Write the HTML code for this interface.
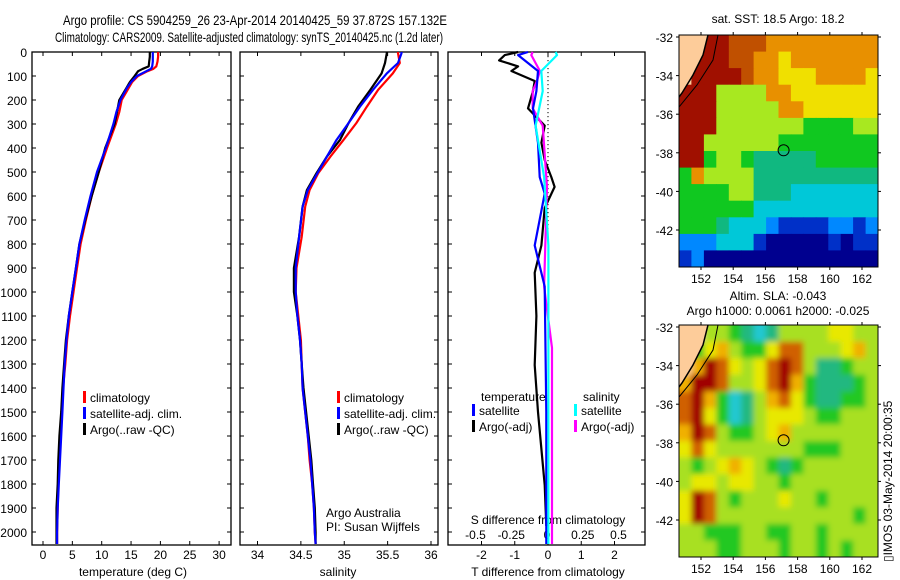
<!DOCTYPE html>
<html><head><meta charset="utf-8"><style>
body{margin:0;background:#fff;width:900px;height:580px;overflow:hidden}
svg{display:block;font-family:"Liberation Sans",sans-serif}
text{fill:#000}
</style></head><body>
<svg id="fig" width="900" height="580" viewBox="0 0 900 580">
<rect width="900" height="580" fill="#fff"/>
<text x="63" y="25" font-size="14" textLength="384" lengthAdjust="spacingAndGlyphs">Argo profile: CS 5904259_26 23-Apr-2014 20140425_59 37.872S 157.132E</text>
<text x="55" y="42" font-size="14" textLength="388" lengthAdjust="spacingAndGlyphs">Climatology: CARS2009. Satellite-adjusted climatology: synTS_20140425.nc (1.2d later)</text>
<g id="p1"></g>
<g id="p2"></g>
<g id="p3"></g>
<g id="m1"></g>
<g id="m2"></g>
<text font-size="12" transform="translate(892,562) rotate(-90)">▯IMOS 03-May-2014 20:00:35</text>
</svg>
<script>
// ---- data ----
const depths = [0,20,40,60,70,80,100,125,150,200,250,300,400,500,600,700,800,900,1000,1100,1200,1300,1400,1500,1600,1700,1800,1900,2000,2050];
const tClim = [19.6,19.6,19.5,19.3,18.8,17.8,16.2,15.2,14.6,13.4,13.0,12.4,10.9,9.5,8.3,7.3,6.4,5.8,5.2,4.6,4.1,3.8,3.4,3.2,3.0,2.8,2.6,2.5,2.4,2.4];
const tSat  = [18.7,18.7,18.7,18.6,18.4,17.6,16.0,15.0,14.3,13.2,12.5,12.0,10.7,9.2,8.1,7.1,6.2,5.6,5.0,4.4,4.0,3.7,3.5,3.3,3.1,2.9,2.7,2.5,2.4,2.4];
const tArgo = [18.2,18.2,18.1,18.0,17.0,16.2,15.6,14.8,14.2,13.0,12.6,12.2,10.6,9.5,8.3,7.2,6.2,5.6,5.0,4.4,3.9,3.6,3.3,3.1,2.8,2.6,2.5,2.3,2.3,2.3];
const sDepths = [0,5,46,89,158,228,296,367,436,505,575,644,770,900,1000,1100,1200,1300,1400,1500,1600,1700,1800,1900,2000,2050];
const sClim = [35.62,35.62,35.64,35.56,35.39,35.26,35.14,34.99,34.84,34.70,34.60,34.55,34.51,34.45,34.44,34.47,34.50,34.51,34.52,34.55,34.58,34.60,34.63,34.65,34.66,34.67];
const sSat  = [35.66,35.66,35.62,35.49,35.33,35.18,35.05,34.91,34.80,34.69,34.58,34.52,34.48,34.44,34.44,34.46,34.49,34.51,34.52,34.55,34.58,34.61,34.63,34.65,34.66,34.67];
const sArgo = [35.49,35.49,35.47,35.43,35.30,35.16,35.05,34.95,34.80,34.68,34.57,34.52,34.48,34.42,34.42,34.46,34.49,34.51,34.53,34.56,34.59,34.62,34.64,34.66,34.67,34.67];
const dBlackD = [0,13,35,60,79,121,163,235,307,378,450,521,562,650,806,920,1100,1304,1500,1804,1975];
const dBlackT = [-0.9,-1.3,-1.47,-0.9,-1.1,-0.4,-0.45,-0.6,-0.1,-0.2,-0.1,0.1,0.2,-0.1,-0.2,-0.4,-0.35,-0.4,-0.3,-0.1,-0.05];
const dBlueD = [0,13,79,163,235,378,521,590,806,977,1500,2050];
const dBlueT = [-0.6,-0.9,-0.3,-0.35,-0.45,-0.3,-0.25,-0.1,-0.4,-0.1,-0.05,-0.05];
const dCyanD = [0,13,79,163,307,521,806,1200,2050];
const dCyanS = [0.06,0.07,-0.04,-0.03,-0.08,-0.02,0.01,0.01,0.01];
const dMagD = [0,13,79,121,163,235,307,562,977,1233,2050];
const dMagS = [-0.1,-0.11,-0.05,-0.07,-0.1,-0.1,-0.03,0.0,-0.02,0.035,0.035];
const tTicks = [0,5,10,15,20,25,30];
const sTicks = ["34","34.5","35","35.5","36"];
const dTicksT = ["-2","-1","0","1","2"];
const dTicksS = ["-0.5","-0.25","0","0.25","0.5"];
const depthTicks = [0,100,200,300,400,500,600,700,800,900,1000,1100,1200,1300,1400,1500,1600,1700,1800,1900,2000];
const lonTicks = [152,154,156,158,160,162];
const latTicks = [-32,-34,-36,-38,-40,-42];
const sstGrid = [
"LLaa999888888888","Laaa998878888888","Laaaa98877788887","aaa6666887777777","aaa6666688777777",
"aaa6666666555566","aa66666655555555","aa56654444455555","5866664444444444","5555664443333333",
"5555553333333333","5554333211112212","2223331000001011","1200000000000000"];
const slaGrid = [
"LL44321244445544","L356433577444564","L687545787422344","6887445786322234","7863124675322334",
"7853124555433444","6874334564444444","5754444444333444","4345654323444444","4554554434444444",
"5874344454434444","5874444444444434","4433344334434444","4443344434434344"];
const sstCol = {"0":"#00008f","1":"#0030c8","2":"#0088ff","3":"#00c8d8","4":"#10b880","5":"#10c820","6":"#a8e820","7":"#f0e000","8":"#e89000","9":"#c05000","a":"#a01000","L":"#fdcc9a"};
const slaCol = {"0":"#0060ff","1":"#20c8d0","2":"#20b880","3":"#20c820","4":"#a8e020","5":"#e8e800","6":"#f0b000","7":"#d06000","8":"#a00000","L":"#fdcc9a"};

const NS="http://www.w3.org/2000/svg";
function mk(parent,tag,attrs,txt){const e=document.createElementNS(NS,tag);for(const k in attrs)e.setAttribute(k,attrs[k]);if(txt!==undefined)e.textContent=txt;parent.appendChild(e);return e;}
const yD = d => 52 + 0.24*d;
const PT=52, PB=545;

function frame(g,x0,x1){
  const r=mk(g,'rect',{x:x0,y:PT,width:x1-x0,height:PB-PT,fill:'none',stroke:'#000','stroke-width':1.3});
  
  
  depthTicks.forEach(d=>{
    mk(g,'line',{x1:x0,x2:x0+4,y1:yD(d),y2:yD(d),stroke:'#000'});
    mk(g,'line',{x1:x1-4,x2:x1,y1:yD(d),y2:yD(d),stroke:'#000'});
  });
}
function line(g,xs,ds,fx,color,name,w){
  const pts=[];
  for(let i=0;i<xs.length;i++){pts.push(fx(xs[i]).toFixed(1)+','+yD(ds[i]).toFixed(1));}
  const p=mk(g,'polyline',{points:pts.join(' '),fill:'none',stroke:color,'stroke-width':w||2.2,'stroke-linejoin':'round'});
  
  
}
function legend(g,x,y,items){
  items.forEach((it,i)=>{
    const r=mk(g,'rect',{x:x,y:y+i*16-11,width:3,height:12,fill:it[0]});
    
    
    const t=mk(g,'text',{x:x+7,y:y+i*16,'font-size':12},it[1]);
    
    
  });
}

// Panel 1 temperature
(function(){
  const g=document.getElementById('p1'), x0=32,x1=231;
  const fx=t=>43+5.87*t;
  frame(g,x0,x1);
  depthTicks.forEach(d=>{const t=mk(g,'text',{x:27,y:yD(d)+5,'font-size':12,'text-anchor':'end'},d);
    });
  tTicks.forEach(v=>{const x=fx(v);mk(g,'line',{x1:x,x2:x,y1:PB,y2:PB-4,stroke:'#000'});mk(g,'line',{x1:x,x2:x,y1:PT,y2:PT+4,stroke:'#000'});
    const t=mk(g,'text',{x:x,y:559,'font-size':12,'text-anchor':'middle'},v);
    });
  const xl=mk(g,'text',{x:133,y:576,'font-size':12,'text-anchor':'middle'},'temperature (deg C)');
  
  line(g,tClim,depths,fx,'#ff0000','temp-climatology-line');
  line(g,tArgo,depths.slice(0,tArgo.length),fx,'#000','temp-argo-line');
  line(g,tSat,depths,fx,'#0000ff','temp-satellite-line');
  legend(g,83,402,[['#f00','climatology'],['#00f','satellite-adj. clim.'],['#000','Argo(..raw -QC)']]);
})();

// Panel 2 salinity
(function(){
  const g=document.getElementById('p2'), x0=240,x1=438;
  const fx=s=>257.5+86.75*(s-34);
  frame(g,x0,x1);
  sTicks.forEach(v=>{const x=fx(+v);mk(g,'line',{x1:x,x2:x,y1:PB,y2:PB-4,stroke:'#000'});mk(g,'line',{x1:x,x2:x,y1:PT,y2:PT+4,stroke:'#000'});
    const t=mk(g,'text',{x:x,y:559,'font-size':12,'text-anchor':'middle'},v);
    });
  const xl=mk(g,'text',{x:338,y:576,'font-size':12,'text-anchor':'middle'},'salinity');
  
  line(g,sClim,sDepths,fx,'#ff0000','sal-climatology-line');
  line(g,sArgo,sDepths,fx,'#000','sal-argo-line');
  line(g,sSat,sDepths,fx,'#0000ff','sal-satellite-line');
  legend(g,337,402,[['#f00','climatology'],['#00f','satellite-adj. clim.'],['#000','Argo(..raw -QC)']]);
  const a=mk(g,'text',{x:326,y:517,'font-size':12},'Argo Australia');
  const b=mk(g,'text',{x:326,y:531,'font-size':12},'PI: Susan Wijffels');
})();

// Panel 3 differences
(function(){
  const g=document.getElementById('p3'), x0=448,x1=645;
  const fxT=t=>548+33.25*t, fxS=s=>547+143*s;
  frame(g,x0,x1);
  for(let y=PT;y<PB;y+=4) mk(g,'rect',{x:547.5,y:y,width:1,height:1.2,fill:'#000'});
  dTicksT.forEach(v=>{const x=fxT(+v);mk(g,'line',{x1:x,x2:x,y1:PB,y2:PB-4,stroke:'#000'});mk(g,'line',{x1:x,x2:x,y1:PT,y2:PT+4,stroke:'#000'});
    const t=mk(g,'text',{x:x,y:559,'font-size':12,'text-anchor':'middle'},v);
    });
  dTicksS.forEach(v=>{const t=mk(g,'text',{x:fxS(+v),y:539,'font-size':12,'text-anchor':'middle'},v);
    });
  const sl=mk(g,'text',{x:548,y:524,'font-size':12,'text-anchor':'middle'},'S difference from climatology');
  
  const xl=mk(g,'text',{x:548,y:576,'font-size':12,'text-anchor':'middle'},'T difference from climatology');
  
  line(g,dBlackT,dBlackD,fxT,'#000','t-diff-argo-line');
  line(g,dMagS,dMagD,fxS,'#ff00ff','s-diff-argo-line');
  line(g,dBlueT,dBlueD,fxT,'#0000ff','t-diff-satellite-line');
  line(g,dCyanS,dCyanD,fxS,'#00ffff','s-diff-satellite-line');
  const h1=mk(g,'text',{x:481,y:401,'font-size':12},'temperature');
  const h2=mk(g,'text',{x:583,y:401,'font-size':12},'salinity');
  legend(g,472,415,[['#00f','satellite'],['#000','Argo(-adj)']]);
  legend(g,574,415,[['#0ff','satellite'],['#f0f','Argo(-adj)']]);
})();

// Maps
function map(gid,top,grid,cols,titles,blur){
  const g=document.getElementById(gid), x0=679,x1=878,bot=top+232;
  const fxL=l=>701+16.1*(l-152), fyL=l=>top+2+19.3*(-32-l);
  const nc=16,nr=grid.length,cw=(x1-x0)/nc,ch=(bot-top)/nr;
  const id='clip'+gid;
  const cp=mk(g,'clipPath',{id:id});mk(cp,'rect',{x:x0,y:top,width:x1-x0,height:bot-top});
  const cg=mk(g,'g',{'clip-path':'url(#'+id+')'});
  if(blur){const f=mk(g,'filter',{id:'bl'+gid,x:'-10%',y:'-10%',width:'120%',height:'120%'});mk(f,'feGaussianBlur',{stdDeviation:3});}
  const hg=mk(cg,'g',blur?{filter:'url(#bl'+gid+')'}:{});
  grid.forEach((row,r)=>{for(let c=0;c<nc;c++){const ch_=row[c]||row[row.length-1];
    const ext=blur?6:0;
    const cell=mk(hg,'rect',{x:(x0+c*cw-(c==0?ext:0)).toFixed(1),y:(top+r*ch-(r==0?ext:0)).toFixed(1),width:(cw+0.6+(c==0||c==nc-1?ext:0)).toFixed(1),height:(ch+0.6+(r==0||r==nr-1?ext:0)).toFixed(1),fill:cols[ch_]});
    
    }});
  mk(cg,'polygon',{points:`${x0},${top} ${x0+29},${top} ${x0+24},${top+20} ${x0+14},${top+40} ${x0+3},${top+58} ${x0},${top+62}`,fill:'#fdcc9a'});
  mk(cg,'polyline',{points:`${x0+29},${top} ${x0+24},${top+20} ${x0+14},${top+40} ${x0+3},${top+58} ${x0},${top+62}`,fill:'none',stroke:'#000','stroke-width':1.5});
  mk(cg,'polyline',{points:`${x0+39},${top} ${x0+34},${top+25} ${x0+18},${top+50} ${x0},${top+72}`,fill:'none',stroke:'#000','stroke-width':1});
  const c=mk(g,'circle',{cx:fxL(157.13),cy:fyL(-37.87),r:5.5,fill:'none',stroke:'#000','stroke-width':1});
  
  const fr=mk(g,'rect',{x:x0,y:top,width:x1-x0,height:bot-top,fill:'none',stroke:'#000'});
  
  lonTicks.forEach(l=>{const x=fxL(l);mk(g,'line',{x1:x,x2:x,y1:top,y2:top-3,stroke:'#000'});mk(g,'line',{x1:x,x2:x,y1:bot,y2:bot+3,stroke:'#000'});
    const t=mk(g,'text',{x:x,y:bot+16,'font-size':12,'text-anchor':'middle'},l);
    });
  latTicks.forEach(l=>{const y=fyL(l);mk(g,'line',{x1:x0,x2:x0-3,y1:y,y2:y,stroke:'#000'});mk(g,'line',{x1:x1,x2:x1+3,y1:y,y2:y,stroke:'#000'});
    const t=mk(g,'text',{x:673,y:y+5,'font-size':12,'text-anchor':'end'},l);
    });
  titles.forEach((tt,i)=>{const t=mk(g,'text',{x:778,y:tt[1],'font-size':12,'text-anchor':'middle'},tt[0]);
    });
}
map('m1',35,sstGrid,sstCol,[['sat. SST: 18.5 Argo: 18.2',23]],false);
map('m2',325,slaGrid,slaCol,[['Altim. SLA: -0.043',300],['Argo h1000: 0.0061 h2000: -0.025',315]],true);
</script>
</body></html>
